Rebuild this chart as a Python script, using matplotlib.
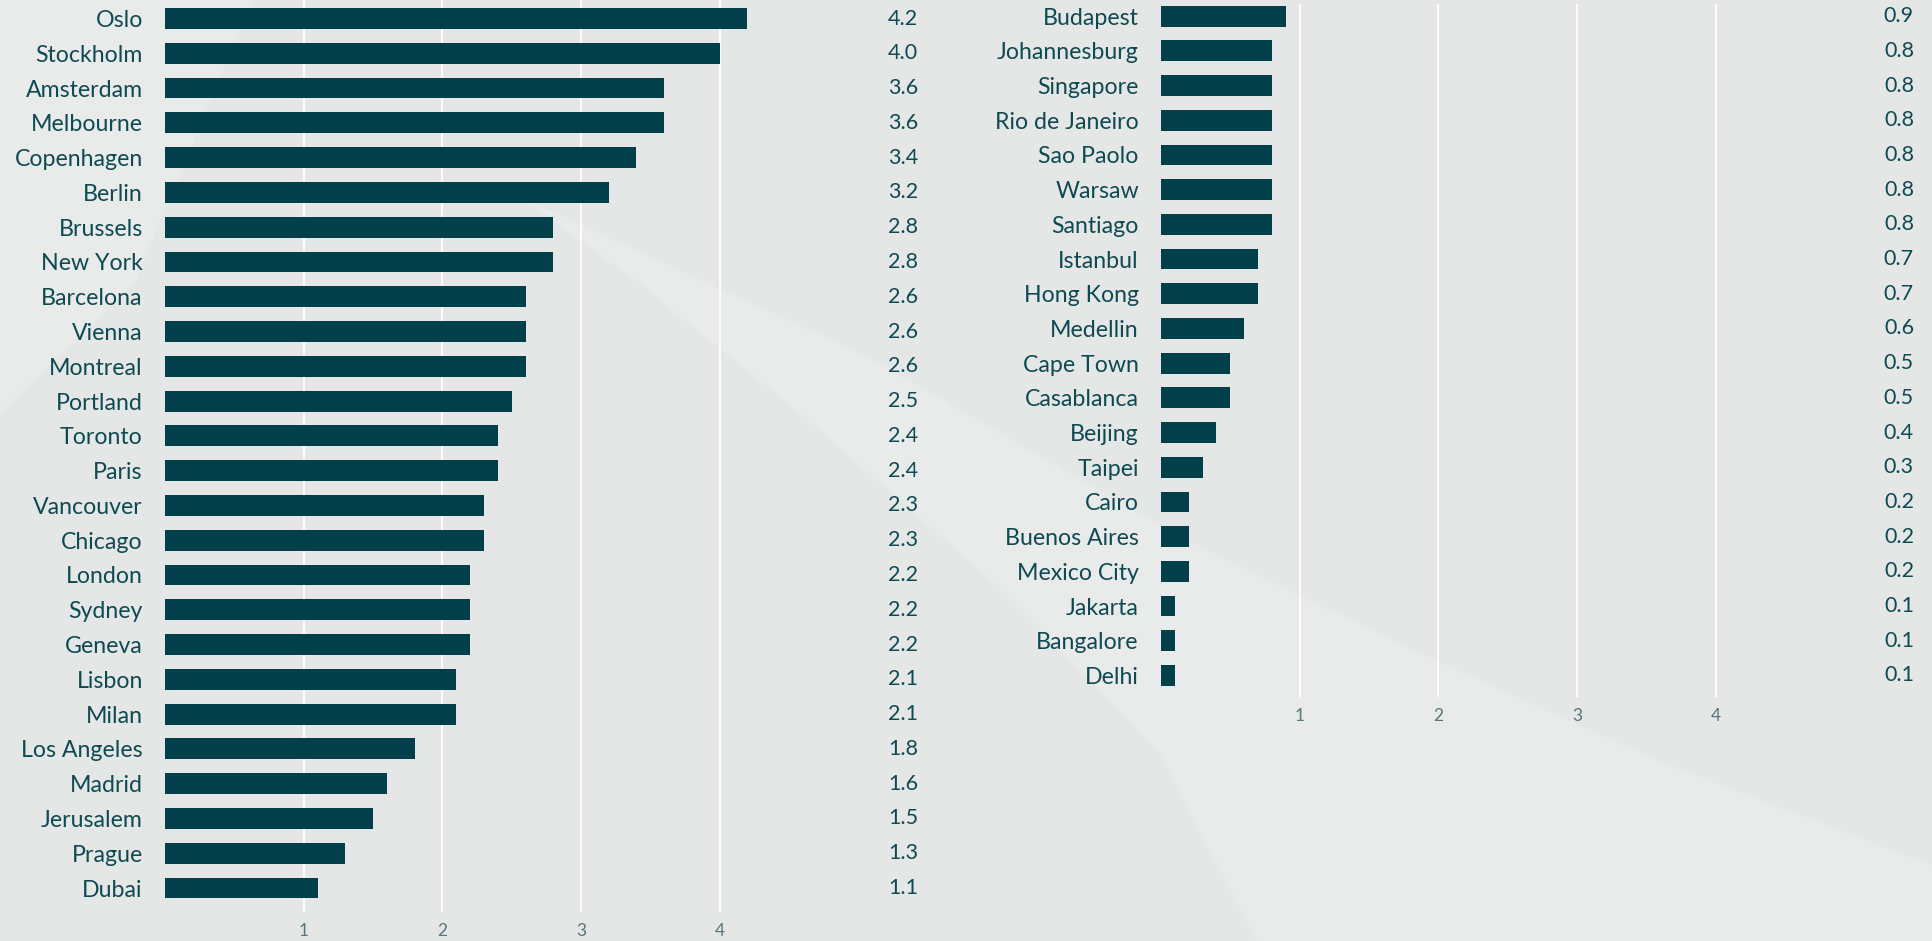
import matplotlib.pyplot as plt
from matplotlib.patches import Polygon

left_cities = ["Oslo", "Stockholm", "Amsterdam", "Melbourne", "Copenhagen", "Berlin",
               "Brussels", "New York", "Barcelona", "Vienna", "Montreal", "Portland",
               "Toronto", "Paris", "Vancouver", "Chicago", "London", "Sydney", "Geneva",
               "Lisbon", "Milan", "Los Angeles", "Madrid", "Jerusalem", "Prague", "Dubai"]
left_values = [4.2, 4.0, 3.6, 3.6, 3.4, 3.2, 2.8, 2.8, 2.6, 2.6, 2.6, 2.5, 2.4, 2.4,
               2.3, 2.3, 2.2, 2.2, 2.2, 2.1, 2.1, 1.8, 1.6, 1.5, 1.3, 1.1]

right_cities = ["Budapest", "Johannesburg", "Singapore", "Rio de Janeiro", "Sao Paolo",
                "Warsaw", "Santiago", "Istanbul", "Hong Kong", "Medellin", "Cape Town",
                "Casablanca", "Beijing", "Taipei", "Cairo", "Buenos Aires", "Mexico City",
                "Jakarta", "Bangalore", "Delhi"]
right_values = [0.9, 0.8, 0.8, 0.8, 0.8, 0.8, 0.8, 0.7, 0.7, 0.6, 0.5, 0.5, 0.4, 0.3,
                0.2, 0.2, 0.2, 0.1, 0.1, 0.1]

grid_ticks = [1, 2, 3, 4]

BG = "#e5e7e6"
LIGHT = "#e9eaea"
BAR = "#01404a"
TEXT = "#0e4a52"
TICK = "#55767b"
FONT = "Lato"

W, H = 1933, 941
fig = plt.figure(figsize=(W / 100, H / 100), dpi=100)
fig.patch.set_facecolor(BG)

# faint lighter background sweeps
fig.patches.append(Polygon([(0.0, 1.0), (0.0, 0.56), (0.07, 0.70), (0.13, 1.0)],
                           closed=True, transform=fig.transFigure,
                           facecolor=LIGHT, edgecolor="none", zorder=-10))
fig.patches.append(Polygon([(0.27, 0.79), (0.33, 0.70), (0.42, 0.55), (0.52, 0.37),
                            (0.60, 0.20), (0.65, 0.0), (1.0, 0.0), (1.0, 0.08),
                            (0.86, 0.19), (0.73, 0.31), (0.61, 0.43), (0.45, 0.62)],
                           closed=True, transform=fig.transFigure,
                           facecolor=LIGHT, edgecolor="none", zorder=-10))


def panel(rect, cities, values, ylim):
    ax = fig.add_axes(rect)
    ax.set_facecolor("none")
    y = list(range(len(cities)))
    ax.barh(y, values, height=0.6, color=BAR, zorder=3)
    ax.set_xlim(0, 5.43)
    ax.set_ylim(*ylim)
    ax.set_xticks(grid_ticks)
    ax.set_xticklabels([str(t) for t in grid_ticks], fontsize=12.5, color=TICK,
                       family=FONT)
    ax.set_yticks(y)
    ax.set_yticklabels(cities, fontsize=16.7, color=TEXT, family=FONT)
    ax.tick_params(axis="x", length=0, pad=8)
    ax.tick_params(axis="y", length=0, pad=16)
    ax.grid(axis="x", color="white", linewidth=1.3, zorder=0)
    for s in ax.spines.values():
        s.set_visible(False)
    for i, v in enumerate(values):
        ax.text(5.43, i, "{:.1f}".format(v), ha="right", va="center",
                fontsize=15.5, color=TEXT, family=FONT, clip_on=False)
    return ax


ax1 = panel([165 / W, (H - 912) / H, 753 / W, 912 / H],
            left_cities, left_values, (25.69, -0.532))
ax2 = panel([1161 / W, (H - 697) / H, 753 / W, 693 / H],
            right_cities, right_values, (19.62, -0.35))

plt.savefig("out.png", dpi=100, facecolor=BG)
